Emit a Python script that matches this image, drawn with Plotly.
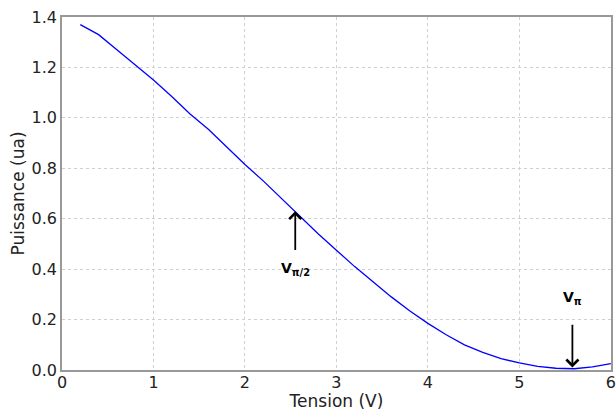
import plotly.graph_objects as go

# Tension (V) vs puissance (ua)
tension = [0.2, 0.4, 0.6, 0.8, 1.0, 1.2, 1.4, 1.6, 1.8, 2.0, 2.2, 2.4, 2.6, 2.8, 3.0,
           3.2, 3.4, 3.6, 3.8, 4.0, 4.2, 4.4, 4.6, 4.8, 5.0, 5.2, 5.4, 5.6, 5.8, 6.0]
puissance = [1.37, 1.33, 1.27, 1.21, 1.15, 1.085, 1.015, 0.955, 0.885, 0.815, 0.75, 0.68,
             0.61, 0.54, 0.475, 0.41, 0.35, 0.29, 0.235, 0.185, 0.14, 0.10, 0.07, 0.045,
             0.028, 0.014, 0.007, 0.005, 0.012, 0.025]

# annotated points: (x, arrow tip, arrow tail, label y, label)
marks = [
    (2.55, 0.63, 0.47, 0.40, "<b>V</b><sub><b>π/2</b></sub>"),
    (5.58, 0.01, 0.185, 0.285, "<b>V</b><sub><b>π</b></sub>"),
]

fig = go.Figure()
fig.add_trace(go.Scatter(x=tension, y=puissance, mode="lines",
                         line=dict(color="#0000ff", width=1.3), showlegend=False))

for x, tip, tail, ly, label in marks:
    fig.add_annotation(x=x, y=tip, ax=x, ay=tail, xref="x", yref="y", axref="x", ayref="y",
                       text="", showarrow=True, arrowhead=4, arrowsize=1.3,
                       arrowwidth=1.8, arrowcolor="black")
    fig.add_annotation(x=x, y=ly, text=label, showarrow=False,
                       font=dict(size=14, color="black"))

axis_common = dict(showgrid=True, gridcolor="#d0d0d0", griddash="dot", gridwidth=1,
                   showline=True, linecolor="#999999", linewidth=1.5, mirror=True,
                   zeroline=False, ticks="", tickfont=dict(size=16, color="#222"),
                   ticklabeloverflow="allow")

fig.update_xaxes(range=[0, 6.002], tick0=0, dtick=1, ticklabelstandoff=-3,
                 title=dict(text="Tension (V)", standoff=0, font=dict(size=17)),
                 **axis_common)
fig.update_yaxes(range=[0, 1.4], dtick=0.2, tickformat=".1f",
                 title=dict(text="Puissance (ua)", standoff=3, font=dict(size=17)),
                 **axis_common)

fig.update_layout(
    width=616, height=411,
    margin=dict(l=62, r=0, t=17, b=41),
    plot_bgcolor="white", paper_bgcolor="white",
    font=dict(family="DejaVu Sans", color="#222"),
)

# drop the default page margin so the figure sits at the window's corner
fig.write_html("out.html", config={"displayModeBar": False},
               post_script="document.body.style.margin='0';document.body.style.overflow='hidden';")
